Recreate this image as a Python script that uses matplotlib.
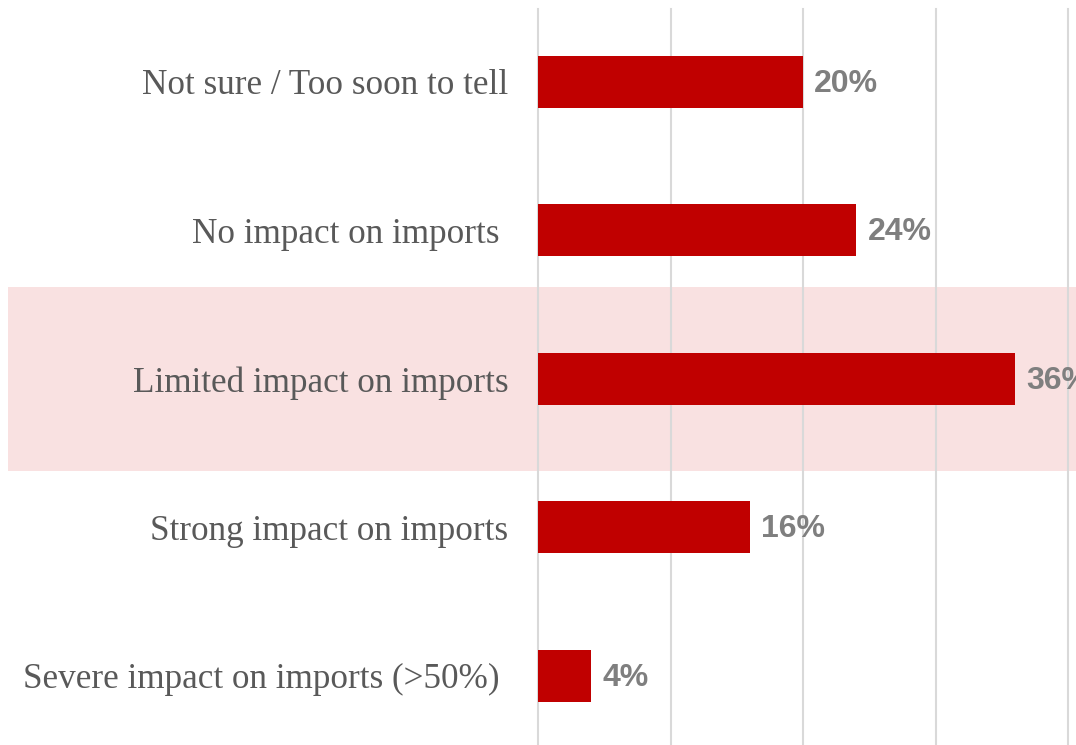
import matplotlib
matplotlib.use("Agg")
import matplotlib.pyplot as plt
from matplotlib.patches import Rectangle
from matplotlib.transforms import blended_transform_factory

# Survey responses, listed bottom to top
categories = [
    "Severe impact on imports (>50%) ",
    "Strong impact on imports",
    "Limited impact on imports",
    "No impact on imports ",
    "Not sure / Too soon to tell",
]
shares = [4, 16, 36, 24, 20]
value_labels = ["4%", "16%", "36%", "24%", "20%"]
highlight = "Limited impact on imports"
grid_ticks = [0, 10, 20, 30, 40]

BAR_RED = "#C00000"
BAND_PINK = "#F9E1E1"
GRID_GREY = "#D9D9D9"
CAT_GREY = "#595959"
VAL_GREY = "#7F7F7F"

fig = plt.figure(figsize=(10.76, 7.45), dpi=100)
ax = fig.add_axes([538 / 1076, 0, 1 - 538 / 1076, 736 / 745])
ax.set_facecolor("none")

ypos = list(range(len(categories)))
ax.barh(ypos, shares, height=0.35, color=BAR_RED, zorder=3)

ax.set_xlim(0, 40.57)
ax.set_ylim(-0.465, 4.49)

ax.set_xticks(grid_ticks)
ax.set_xticklabels([])
ax.tick_params(axis="both", length=0)
ax.grid(axis="x", color=GRID_GREY, linewidth=1.5, zorder=1)
ax.set_axisbelow(True)
for gl in ax.get_xgridlines():
    gl.set_clip_on(False)
for s in ax.spines.values():
    s.set_visible(False)

# Shaded band behind the highlighted answer, spanning into the label area
hi = categories.index(highlight)
band_tr = blended_transform_factory(fig.transFigure, ax.transData)
band = Rectangle((8 / 1076, hi - 0.62), 1 - 8 / 1076, 1.24,
                 transform=band_tr, facecolor=BAND_PINK, edgecolor="none",
                 clip_on=False, zorder=0)
ax.add_patch(band)

ax.set_yticks(ypos)
ax.set_yticklabels(categories, fontfamily="Liberation Serif",
                   fontsize=25.3, color=CAT_GREY)
ax.tick_params(axis="y", pad=21.5)

for y, v, lab in zip(ypos, shares, value_labels):
    ax.annotate(lab, xy=(v, y), xytext=(8, -1.5), textcoords="offset points",
                ha="left", va="center", fontfamily="Liberation Sans",
                fontweight="bold", fontsize=23, color=VAL_GREY,
                annotation_clip=False, zorder=4)

fig.savefig("out.png", dpi=100)
